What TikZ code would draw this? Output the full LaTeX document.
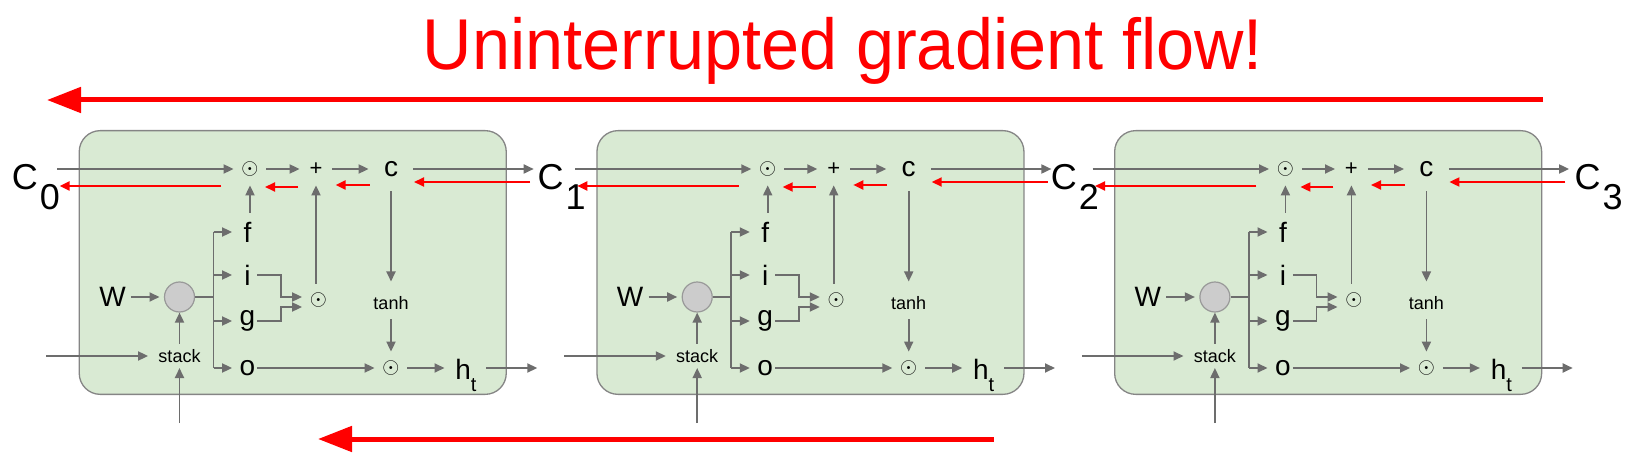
\documentclass[tikz,border=0pt]{standalone}
\usepackage{fontspec}
\setmainfont{Liberation Sans}
\usetikzlibrary{arrows.meta,calc}
\definecolor{ln}{HTML}{6D6D6D}
\definecolor{bx}{HTML}{D9EAD3}
\definecolor{bxd}{HTML}{858585}
\definecolor{cf}{HTML}{CCCCCC}
\definecolor{cd}{HTML}{999999}
\begin{document}
\begin{tikzpicture}[x=0.5pt,y=-0.5pt,
 gl/.style={draw=ln,line width=0.9pt},
 arr/.style={gl,-{Triangle[length=5pt,width=4.5pt]}},
 rarr/.style={draw=red,line width=1pt,-{Triangle[length=5pt,width=4.5pt]}},
 bigarr/.style={draw=red,line width=2.5pt,-{Triangle[length=17pt,width=12.5pt]}},
 lbl/.style={font=\fontsize{14pt}{14pt}\selectfont,inner sep=0pt},
 glbl/.style={lbl,circle,minimum size=15pt},
 small/.style={font=\fontsize{9pt}{9pt}\selectfont,inner sep=0pt},
 op/.style={circle,minimum size=16pt,inner sep=0pt,font=\fontsize{11pt}{11pt}\selectfont},
 cellbox/.style={draw=bxd,fill=bx,line width=0.65pt,rounded corners=10.5pt,anchor=north west,
   minimum width=213.5pt,minimum height=131.85pt,inner sep=0pt},
 Cl/.style={font=\fontsize{18pt}{18pt}\selectfont,inner sep=0pt,anchor=base west},
]
\useasboundingbox (0,0) rectangle (1637,464);

% title and long arrows
\node[font=\fontsize{36pt}{36pt}\selectfont,text=red,anchor=base,inner sep=0pt] (title) at (843,69.5)
  {\scalebox{0.95}[1]{Uninterrupted gradient flow!}};
\coordinate (ta) at (1543,100);
\coordinate (tb) at (47,100);
\draw[bigarr] (ta) -- (tb);
\coordinate (ba) at (993.5,439);
\coordinate (bb) at (318,439);

\foreach \k in {0,1,2}{
\begin{scope}[shift={(517.7*\k,0)}]
 \node[cellbox] (box\k) at (78.6,130) {};
 % nodes
 \node[op] (dotf\k) at (250,169) {$\odot$};
 \node[op] (plus\k) at (316,169) {+};
 \node[op,minimum size=22pt,font=\fontsize{14pt}{14pt}\selectfont] (cc\k) at (391,169) {c};
 \node[glbl] (f\k) at (247.5,232) {f};
 \node[glbl] (i\k) at (247.5,275) {i};
 \node[glbl] (g\k) at (247.5,321) {g};
 \node[glbl] (o\k) at (247.5,368) {o};
 \node[circle,draw=cd,fill=cf,line width=0.6pt,minimum size=15pt,inner sep=0pt] (circ\k) at (179.5,297) {};
 \node[lbl] (W\k) at (112.5,297) {W};
 \node[small,inner xsep=5pt,inner ysep=2.5pt] (st\k) at (179.5,356) {stack};
 \node[op] (doti\k) at (318.5,300) {$\odot$};
 \node[small] (tanh\k) at (391,303) {tanh};
 \node[op] (doto\k) at (391,368) {$\odot$};
 \node[lbl,anchor=base west] (h\k) at (455,379.5) {h\raisebox{-6.2pt}{\fontsize{10pt}{10pt}\selectfont t}};
 % free ends
 \coordinate (tin\k) at (57.3,169);
 \coordinate (tout\k) at (533.7,169);
 \coordinate (sin\k) at (46.4,356);
 \coordinate (bin\k) at (179.5,423);
 \coordinate (hout\k) at (537.3,368);
 \coordinate (br\k) at (213.5,297);
 \coordinate (ei\k) at (281,297);
 \coordinate (eg\k) at (281,307);
 \coordinate (rt\k) at (59.6,186);
 \coordinate (rin\k) at (530,182);
 % gray connectors
 \draw[arr] (tin\k) -- (dotf\k);
 \draw[arr] (dotf\k) -- (plus\k);
 \draw[arr] (plus\k) -- (cc\k);
 \draw[arr] (cc\k) -- (tout\k);
 \draw[arr,shorten <=2pt] (f\k.north -| dotf\k) -- (dotf\k);
 \draw[gl] (circ\k) -- (br\k);
 \draw[gl] (br\k |- f\k) -- (br\k |- o\k);
 \draw[arr] (br\k |- f\k) -- (f\k);
 \draw[arr] (br\k |- i\k) -- (i\k);
 \draw[arr] (br\k |- g\k) -- (g\k);
 \draw[arr] (br\k |- o\k) -- (o\k);
 \draw[arr,shorten <=2.4pt,shorten >=2.2pt] (W\k) -- (circ\k);
 \draw[arr] (st\k) -- (circ\k);
 \draw[arr] (sin\k) -- (st\k);
 \draw[arr] (bin\k) -- (st\k);
 \draw[arr,shorten <=-2.75pt] (i\k.east) -- (i\k.east -| ei\k) -- (ei\k) -- (ei\k -| doti\k.west);
 \draw[arr,shorten <=-2.75pt] (g\k.east) -- (g\k.east -| eg\k) -- (eg\k) -- (eg\k -| doti\k.west);
 \draw[arr] (doti\k.north -| plus\k) -- (plus\k);
 \draw[arr,shorten >=7.25pt] (cc\k) -- (tanh\k);
 \draw[arr,shorten <=4.5pt] (tanh\k) -- (doto\k);
 \draw[arr,shorten <=-2.75pt] (o\k) -- (doto\k);
 \draw[arr,shorten >=5.25pt] (doto\k) -- (doto\k -| h\k.west);
 \draw[arr,shorten <=4.7pt] (h\k.east |- doto\k) -- (hout\k);
 % red gradient arrows
 \draw[rarr] ($(dotf\k)+(-29,17)$) -- (rt\k);
 \draw[rarr] ($(plus\k)+(-18,18)$) -- ($(dotf\k)+(15,18)$);
 \draw[rarr] ($(cc\k)+(-21.5,16)$) -- ($(plus\k)+(19.6,16)$);
 \draw[rarr] (rin\k) -- ($(cc\k)+(23,13)$);
\end{scope}
}

\draw[bigarr] (ba) -- (bb);

% cell-state labels
\node[Cl] (C0) at (11.5,190) {C\kern1pt\raisebox{-10pt}{0}};
\node[Cl] (C1) at (537.2,190) {C\kern1pt\raisebox{-10pt}{1}};
\node[Cl] (C2) at (1050.5,190) {C\kern1pt\raisebox{-10pt}{2}};
\node[Cl] (C3) at (1574.2,190) {C\kern1pt\raisebox{-10pt}{3}};
\end{tikzpicture}
\end{document}
